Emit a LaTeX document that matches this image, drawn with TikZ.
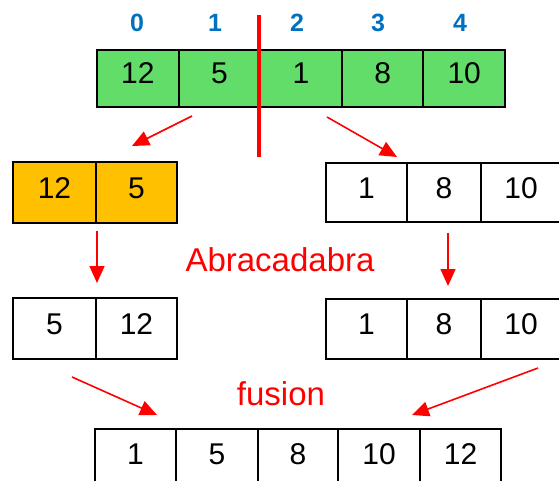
\documentclass[tikz,border=0pt]{standalone}
\usepackage{fontspec}
\setmainfont{Liberation Sans}
\usetikzlibrary{arrows.meta}
\definecolor{cellgreen}{RGB}{98,221,106}
\definecolor{cellorange}{RGB}{255,192,0}
\definecolor{idxblue}{RGB}{0,112,192}
\definecolor{myred}{RGB}{255,0,0}
\begin{document}
\begin{tikzpicture}[x=1pt,y=-1pt,
  cell/.style={draw=black, line width=1.9pt, inner sep=0pt, text height=22pt, text depth=11pt,
    minimum height=59pt, font=\fontsize{30}{30}\selectfont},
  idx/.style={anchor=base, text=idxblue, font=\bfseries\fontsize{25}{25}\selectfont, inner sep=0pt},
  lbl/.style={anchor=base, text=myred, font=\fontsize{33}{33}\selectfont, inner sep=0pt},
  arr/.style={draw=myred, line width=1.6pt, -{Triangle[length=17pt,width=15pt]}},
  cutline/.style={draw=myred, line width=4pt}]
\useasboundingbox (0,0) rectangle (559,481);
\clip (0,0) rectangle (559,481);

% top array
\node[cell, fill=cellgreen, minimum width=81.6pt, minimum height=57pt] (t0) at (137.8,78.5) {12};
\node[cell, fill=cellgreen, minimum width=81.6pt, minimum height=57pt] (t1) at (219.4,78.5) {5};
\node[cell, fill=cellgreen, minimum width=81.6pt, minimum height=57pt] (t2) at (301.0,78.5) {1};
\node[cell, fill=cellgreen, minimum width=81.6pt, minimum height=57pt] (t3) at (382.6,78.5) {8};
\node[cell, fill=cellgreen, minimum width=81.6pt, minimum height=57pt] (t4) at (464.2,78.5) {10};

% indices
\node[idx] (i0) at (137,32) {0};
\node[idx] (i1) at (215,32) {1};
\node[idx] (i2) at (297,32) {2};
\node[idx] (i3) at (378,32) {3};
\node[idx] (i4) at (460,32) {4};

% cut line
\coordinate (cutA) at (259,15);
\coordinate (cutB) at (259,157);
\draw[cutline] (cutA) -- (cutB);

% left split (orange)
\node[cell, fill=cellorange, minimum width=83pt, minimum height=61pt] (l0) at (54.5,192.5) {12};
\node[cell, fill=cellorange, minimum width=81pt, minimum height=61pt] (l1) at (136.5,192.5) {5};

% right split
\node[cell, minimum width=81pt] (r0) at (366.5,192.5) {1};
\node[cell, minimum width=74pt] (r1) at (444,192.5) {8};
\node[cell, minimum width=80pt] (r2) at (521,192.5) {10};

% left sorted
\node[cell, minimum width=83pt, minimum height=61pt] (ls0) at (54.5,328.5) {5};
\node[cell, minimum width=81pt, minimum height=61pt] (ls1) at (136.5,328.5) {12};

% right sorted
\node[cell, minimum width=81pt, minimum height=60pt] (rs0) at (366.5,329) {1};
\node[cell, minimum width=74pt, minimum height=60pt] (rs1) at (444,329) {8};
\node[cell, minimum width=80pt, minimum height=60pt] (rs2) at (521,329) {10};

% merged
\node[cell, minimum width=81pt, minimum height=60pt] (m0) at (135.5,459) {1};
\node[cell, minimum width=82pt, minimum height=60pt] (m1) at (217,459) {5};
\node[cell, minimum width=80pt, minimum height=60pt] (m2) at (298,459) {8};
\node[cell, minimum width=82pt, minimum height=60pt] (m3) at (379,459) {10};
\node[cell, minimum width=81pt, minimum height=60pt] (m4) at (460.5,459) {12};

% labels
\node[lbl] (abra) at (280,271) {Abracadabra};
\node[lbl] (fus) at (281,405) {fusion};

% arrows
\coordinate (a1s) at (192,116); \coordinate (a1e) at (132,146);
\coordinate (a2s) at (327,117); \coordinate (a2e) at (397,157);
\coordinate (a3s) at (97,231);  \coordinate (a3e) at (97,283);
\coordinate (a4s) at (448,233); \coordinate (a4e) at (448,286);
\coordinate (a5s) at (72,377);  \coordinate (a5e) at (157,415);
\coordinate (a6s) at (538,368); \coordinate (a6e) at (412,415);
\draw[arr] (a1s) -- (a1e);
\draw[arr] (a2s) -- (a2e);
\draw[arr] (a3s) -- (a3e);
\draw[arr] (a4s) -- (a4e);
\draw[arr] (a5s) -- (a5e);
\draw[arr] (a6s) -- (a6e);
\end{tikzpicture}
\end{document}
